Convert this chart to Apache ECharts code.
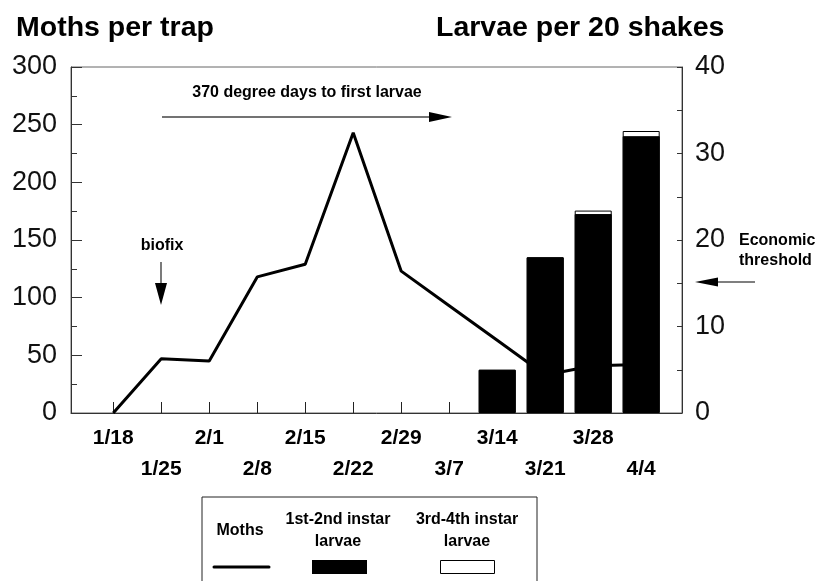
<!DOCTYPE html>
<html>
<head>
<meta charset="utf-8">
<script src="https://cdn.jsdelivr.net/npm/echarts@6/dist/echarts.min.js"></script>
<style>
html,body{margin:0;padding:0;background:#fff;}
#chart{width:820px;height:581px;}
</style>
</head>
<body>
<div id="chart"></div>
<script>
// ---- data ----
const categories = ['1/18','1/25','2/1','2/8','2/15','2/22','2/29','3/7','3/14','3/21','3/28','4/4'];
const moths = [0, 47, 45, 118, 129, 243, 123, 93, 63, 33, 41, 42];
const larvae12 = [null, null, null, null, null, null, null, null, 5, 18, 23, 32];
const larvae34 = [null, null, null, null, null, null, null, null, 0, 0, 0.4, 0.6];
const leftMax = 300, leftStep = 50;
const rightMax = 40, rightStep = 10;

const FONT = 'Liberation Sans, Arial, Helvetica, sans-serif';
const idx = categories.map((c, i) => i);
const pairs = arr => arr.map((v, i) => [i, v]).filter(p => p[1] !== null);
// total height of each larvae column (1st-2nd + 3rd-4th), drawn behind the 1st-2nd bar
const larvaeTotal = larvae12.map((v, i) => v === null ? null : v + (larvae34[i] || 0));

const chart = echarts.init(document.getElementById('chart'), null, {renderer: 'canvas'});

function arrowH(x1, x2, y, head, half, lineColor) {
  const dir = x2 > x1 ? 1 : -1;
  return [
    {type: 'line', shape: {x1: x1, y1: y, x2: x2 - dir * head, y2: y}, style: {stroke: lineColor, lineWidth: 1.5}},
    {type: 'polygon', shape: {points: [[x2, y], [x2 - dir * head, y - half], [x2 - dir * head, y + half]]}, style: {fill: '#000'}}
  ];
}

const option = {
  animation: false,
  backgroundColor: '#fff',
  title: [
    {text: 'Moths per trap', left: 11, top: 9, textStyle: {fontFamily: FONT, fontSize: 28.5, fontWeight: 'bold', color: '#000'}},
    {text: 'Larvae per 20 shakes', left: 431, top: 9, textStyle: {fontFamily: FONT, fontSize: 28.5, fontWeight: 'bold', color: '#000'}}
  ],
  grid: {left: 71, right: 138, top: 67, bottom: 168, show: true, borderColor: '#666', borderWidth: 1, backgroundColor: 'transparent'},
  xAxis: {
    type: 'value',
    min: -0.88,
    max: 11.85,
    splitLine: {show: false},
    axisLine: {show: true, onZero: false, lineStyle: {color: '#333', width: 1}},
    axisTick: {show: true, inside: true, length: 11, customValues: idx, lineStyle: {color: '#222', width: 1}},
    axisLabel: {
      show: true,
      customValues: idx,
      margin: 10,
      fontFamily: FONT, fontSize: 21, fontWeight: 'bold', color: '#000', lineHeight: 31,
      formatter: function (v) { const i = Math.round(v); return (i % 2 ? '\n' : '') + categories[i]; }
    }
  },
  yAxis: [
    {
      type: 'value', min: 0, max: leftMax, interval: leftStep, position: 'left',
      splitLine: {show: false},
      axisLine: {show: true, onZero: false, lineStyle: {color: '#333', width: 1}},
      axisTick: {show: true, inside: true, length: 11, lineStyle: {color: '#333'}},
      minorTick: {show: true, splitNumber: 2, length: 6, lineStyle: {color: '#333'}},
      axisLabel: {margin: 14, fontFamily: FONT, fontSize: 27, color: '#111'}
    },
    {
      type: 'value', min: 0, max: rightMax, interval: rightStep, position: 'right',
      splitLine: {show: false},
      axisLine: {show: true, onZero: false, lineStyle: {color: '#333', width: 1}},
      axisTick: {show: true, inside: true, length: 5, lineStyle: {color: '#333'}},
      minorTick: {show: true, splitNumber: 2, length: 5, lineStyle: {color: '#333'}},
      axisLabel: {margin: 13, fontFamily: FONT, fontSize: 27, color: '#111'}
    }
  ],
  series: [
    {
      name: '3rd-4th instar larvae', type: 'bar', yAxisIndex: 1,
      barWidth: 37, barGap: '-100%', data: pairs(larvaeTotal),
      itemStyle: {color: '#fff', borderColor: '#000', borderWidth: 1}, z: 2
    },
    {
      name: '1st-2nd instar larvae', type: 'bar', yAxisIndex: 1,
      barWidth: 37, barGap: '-100%', data: pairs(larvae12),
      itemStyle: {color: '#000', borderColor: '#000', borderWidth: 1}, z: 2
    },
    {
      name: 'Moths', type: 'line', yAxisIndex: 0, data: pairs(moths),
      symbol: 'none', smooth: false,
      lineStyle: {color: '#000', width: 3}, itemStyle: {color: '#000'}, z: 3
    }
  ],
  graphic: [
    {type: 'text', x: 307, y: 93, style: {text: '370 degree days to first larvae', font: 'bold 16px ' + FONT, fill: '#000', align: 'center', verticalAlign: 'middle'}},
    ...arrowH(162, 452, 117, 23, 5, '#444'),
    {type: 'text', x: 162, y: 246, style: {text: 'biofix', font: 'bold 16px ' + FONT, fill: '#000', align: 'center', verticalAlign: 'middle'}},
    {type: 'line', shape: {x1: 161, y1: 262, x2: 161, y2: 284}, style: {stroke: '#222', lineWidth: 1.2}},
    {type: 'polygon', shape: {points: [[161, 305], [155, 283], [167, 283]]}, style: {fill: '#000'}},
    {type: 'text', x: 739, y: 241, style: {text: 'Economic', font: 'bold 16px ' + FONT, fill: '#000', align: 'left', verticalAlign: 'middle'}},
    {type: 'text', x: 739, y: 261, style: {text: 'threshold', font: 'bold 16px ' + FONT, fill: '#000', align: 'left', verticalAlign: 'middle'}},
    ...arrowH(755, 695, 282, 23, 4.5, '#555'),
    {type: 'rect', shape: {x: 202, y: 497, width: 335, height: 110}, style: {fill: '#fff', stroke: '#222', lineWidth: 1}},
    {type: 'text', x: 240, y: 531, style: {text: 'Moths', font: 'bold 16px ' + FONT, fill: '#000', align: 'center', verticalAlign: 'middle'}},
    {type: 'text', x: 338, y: 520, style: {text: '1st-2nd instar', font: 'bold 16px ' + FONT, fill: '#000', align: 'center', verticalAlign: 'middle'}},
    {type: 'text', x: 338, y: 542, style: {text: 'larvae', font: 'bold 16px ' + FONT, fill: '#000', align: 'center', verticalAlign: 'middle'}},
    {type: 'text', x: 467, y: 520, style: {text: '3rd-4th instar', font: 'bold 16px ' + FONT, fill: '#000', align: 'center', verticalAlign: 'middle'}},
    {type: 'text', x: 467, y: 542, style: {text: 'larvae', font: 'bold 16px ' + FONT, fill: '#000', align: 'center', verticalAlign: 'middle'}},
    {type: 'line', shape: {x1: 214, y1: 567, x2: 269, y2: 567}, style: {stroke: '#000', lineWidth: 3, lineCap: 'round'}},
    {type: 'rect', shape: {x: 312, y: 560, width: 55, height: 14}, style: {fill: '#000'}},
    {type: 'rect', shape: {x: 440.5, y: 560.5, width: 54, height: 13}, style: {fill: '#fff', stroke: '#000', lineWidth: 1}}
  ]
};

chart.setOption(option);
</script>
</body>
</html>
